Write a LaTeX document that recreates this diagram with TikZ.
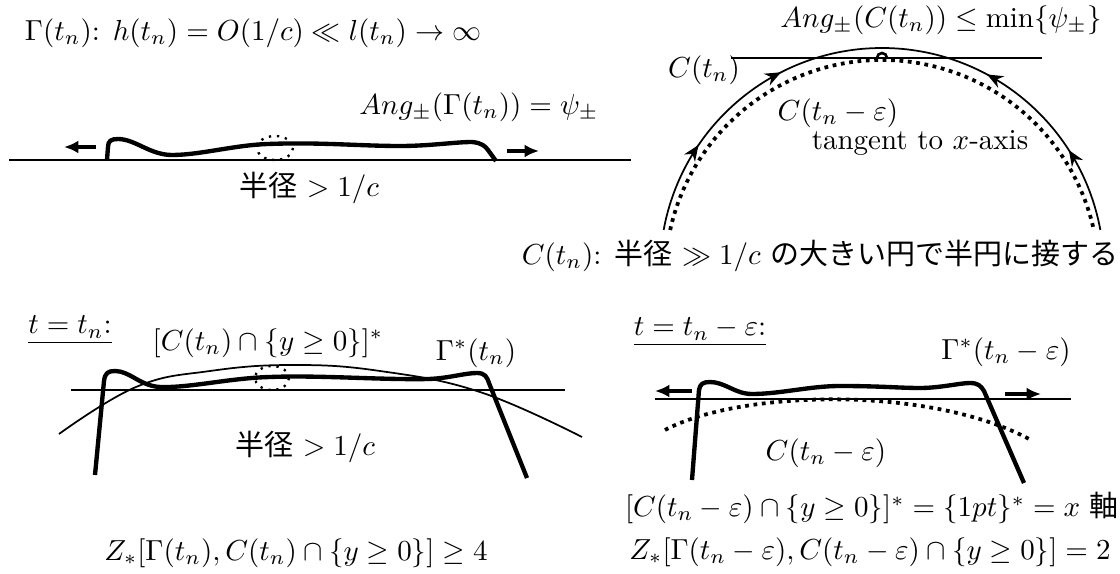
\documentclass[tikz,border=0pt]{standalone}
\usepackage{amsmath,amssymb}
\usepackage{fontspec}
\newfontfamily\jpfont{Noto Sans CJK JP}
\usetikzlibrary{arrows.meta, decorations.markings}
\tikzset{
  axisline/.style={line width=0.6pt},
  thinarc/.style={line width=0.6pt},
  profile/.style={line width=1.5pt, line join=round},
  bigdots/.style={line width=1.3pt, dash pattern=on 1.3pt off 1.6pt},
  smalldots/.style={line width=0.8pt, dash pattern=on 0.8pt off 2pt},
  pusharrow/.style={-{Latex[length=5pt,width=4.5pt]}, line width=1.3pt},
  upmarks/.style 2 args={decoration={markings,
      mark=at position #1 with {\arrow{Stealth[length=5.5pt,width=4.5pt]}},
      mark=at position #2 with {\arrow{Stealth[length=5.5pt,width=4.5pt]}}},
    postaction={decorate}},
  txt/.style={inner sep=1pt},
}
\begin{document}
\begin{tikzpicture}[x=0.345pt, y=-0.345pt]
  \useasboundingbox (0,0) rectangle (1120,574);

  % top left: the flat curve Gamma(t_n)
  \node[txt] (titleA) at (253,33) {$\Gamma(t_n)$: $h(t_n)=O(1/c)\ll l(t_n)\to\infty$};
  \node[txt] (angA) at (479,107) {$Ang_{\pm}(\Gamma(t_n))=\psi_{\pm}$};
  \draw[axisline] (9,160) -- (631,160);
  \draw[profile] (107,160) -- (108,147)
    .. controls (108,141) and (111,139) .. (118,139)
    .. controls (135,139) and (150,155) .. (172,155)
    .. controls (200,155) and (235,145) .. (268,144)
    .. controls (320,142) and (360,146) .. (400,146)
    .. controls (430,146) and (455,142) .. (472,142)
    .. controls (482,143) and (485,146) .. (488,150)
    -- (496,161);
  \draw[smalldots] (275,148) ellipse [x radius=18, y radius=12];
  \coordinate (pushLa) at (96,147);
  \coordinate (pushLb) at (64,147);
  \coordinate (pushRa) at (507,151);
  \coordinate (pushRb) at (539,151);
  \draw[pusharrow] (pushLa) -- (pushLb);
  \draw[pusharrow] (pushRa) -- (pushRb);
  \node[txt] (radA) at (309,188) {{\jpfont 半径} $>1/c$};

  % top right: big circle C(t_n) and C(t_n - eps)
  \node[txt] (angB) at (941,20) {$Ang_{\pm}(C(t_n))\le\min\{\psi_{\pm}\}$};
  \draw[axisline] (731,58) -- (1042,58);
  \coordinate (cc) at (882,270);
  \coordinate (cd) at (882,277);
  \draw[thinarc, upmarks={0.3}{0.66}] (cc) ++(-169.6:222) arc[start angle=-169.6, end angle=-90, radius=222];
  \draw[thinarc, upmarks={0.28}{0.645}] (cc) ++(-10.4:222) arc[start angle=-10.4, end angle=-90, radius=222];
  \draw[bigdots] (cd) ++(-167.5:217) arc[start angle=-167.5, end angle=-12.5, radius=217];
  \coordinate (angmark) at (882,58);
  \draw[line width=0.9pt] (angmark) ++(0:5) arc[start angle=0, end angle=-180, radius=5];
  \node[txt] (ctn) at (704,70) {$C(t_n)$};
  \node[txt] (cte) at (838,113) {$C(t_n-\varepsilon)$};
  \node[txt] (tang) at (920,143) {tangent to $x$-axis};
  \node[txt] (capB) at (820,256) {$C(t_n)$: {\jpfont 半径} $\gg 1/c$ {\jpfont の大きい円で半円に接する}};

  % bottom left: t = t_n
  \node[txt] (labC) at (70,330) {\underline{$t=t_n$:}};
  \node[txt] (capC) at (268,343) {$[C(t_n)\cap\{y\ge 0\}]^*$};
  \node[txt] (gamC) at (476,353) {$\Gamma^*(t_n)$};
  \draw[axisline] (71,390) -- (565,390);
  \draw[thinarc] plot[smooth, tension=0.7] coordinates
    {(59,434) (136,387) (210,371) (293,365) (380,371) (480,392) (582,437)};
  \draw[profile] (95,475) -- (104,381)
    .. controls (105,373) and (108,371) .. (115,371)
    .. controls (130,371) and (140,386) .. (160,387)
    .. controls (190,388) and (230,378) .. (270,377)
    .. controls (320,375) and (380,380) .. (429,379)
    .. controls (450,378) and (465,373) .. (477,373)
    .. controls (485,373) and (487,377) .. (489,383)
    -- (527,478);
  \draw[smalldots] (272,378) ellipse [x radius=17, y radius=12];
  \node[txt] (radC) at (305,447) {{\jpfont 半径} $>1/c$};
  \node[txt] (zC) at (296,553) {$Z_*[\Gamma(t_n),C(t_n)\cap\{y\ge 0\}]\ge 4$};

  % bottom right: t = t_n - eps
  \node[txt] (labD) at (700,332) {\underline{$t=t_n-\varepsilon$:}};
  \node[txt] (gamD) at (1006,352) {$\Gamma^*(t_n-\varepsilon)$};
  \draw[axisline] (655,399) -- (1071,399);
  \draw[bigdots] (665,430) .. controls (740,390) and (930,385) .. (1031,440);
  \draw[profile] (692,480) -- (699,390)
    .. controls (700,384) and (703,382) .. (710,382)
    .. controls (725,382) and (735,394) .. (752,394)
    .. controls (780,394) and (810,386) .. (840,386)
    .. controls (880,386) and (900,388) .. (920,388)
    .. controls (940,388) and (960,383) .. (970,383)
    .. controls (978,383) and (981,386) .. (984,391)
    -- (1024,483);
  \coordinate (pushLc) at (692,391);
  \coordinate (pushLd) at (655,391);
  \coordinate (pushRc) at (1005,394);
  \coordinate (pushRd) at (1041,394);
  \draw[pusharrow] (pushLc) -- (pushLd);
  \draw[pusharrow] (pushRc) -- (pushRd);
  \node[txt] (cteD) at (826,453) {$C(t_n-\varepsilon)$};
  \node[txt] (capD) at (872,508) {$[C(t_n-\varepsilon)\cap\{y\ge 0\}]^*=\{1pt\}^*=x$ {\jpfont 軸}};
  \node[txt] (zD) at (870,552) {$Z_*[\Gamma(t_n-\varepsilon),C(t_n-\varepsilon)\cap\{y\ge 0\}]=2$};
\end{tikzpicture}
\end{document}
